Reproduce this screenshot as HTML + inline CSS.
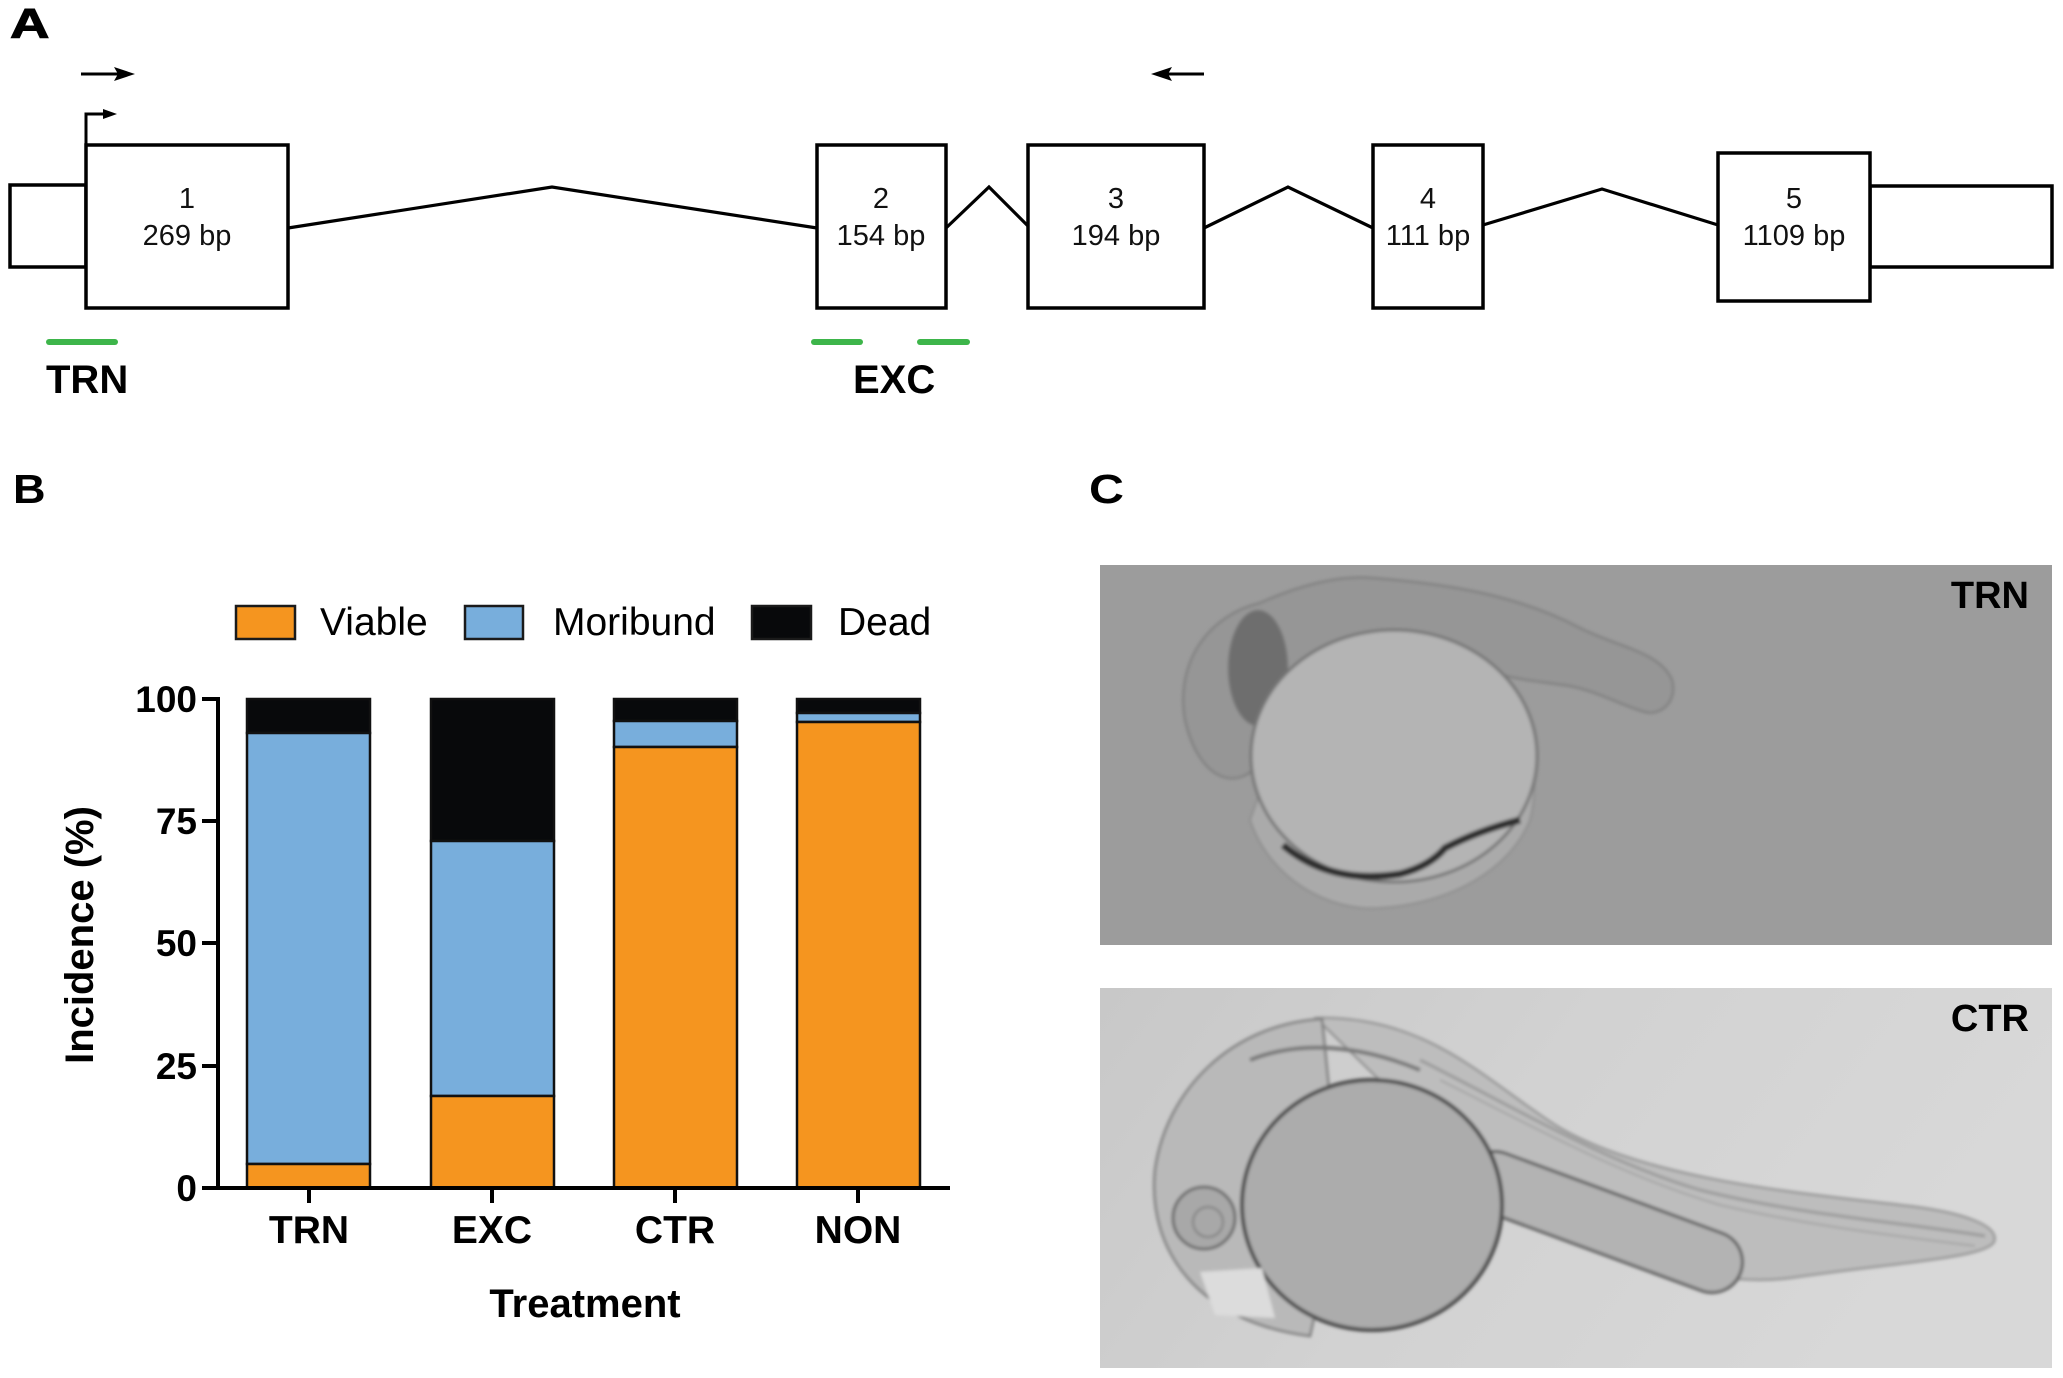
<!DOCTYPE html>
<html>
<head>
<meta charset="utf-8">
<style>
html,body{margin:0;padding:0;background:#fff;}
svg{display:block;}
text{font-family:"Liberation Sans",Arial,sans-serif;}
</style>
</head>
<body>
<svg width="2063" height="1378" viewBox="0 0 2063 1378" xmlns="http://www.w3.org/2000/svg">
<defs>
  <linearGradient id="ctrbg" x1="0" y1="0" x2="1" y2="0.3">
    <stop offset="0" stop-color="#c8c8c8"/>
    <stop offset="0.5" stop-color="#d2d2d2"/>
    <stop offset="1" stop-color="#d8d8d8"/>
  </linearGradient>
  <filter id="soft" x="-5%" y="-5%" width="110%" height="110%"><feGaussianBlur stdDeviation="1.5"/></filter>
</defs>
<rect width="2063" height="1378" fill="#fff"/>

<!-- ===== Panel A ===== -->
<text transform="translate(10,38) scale(1.3,1)" font-size="42" font-weight="bold" fill="#000" stroke="#000" stroke-width="1">A</text>

<!-- primer arrows -->
<line x1="81" y1="74" x2="124" y2="74" stroke="#000" stroke-width="3"/>
<polygon points="135,74 114,67 118,74 114,81" fill="#000"/>
<line x1="1162" y1="74" x2="1204" y2="74" stroke="#000" stroke-width="3"/>
<polygon points="1151,74 1172,67 1168,74 1172,81" fill="#000"/>

<!-- TSS arrow -->
<polyline points="86,145 86,114 108,114" fill="none" stroke="#000" stroke-width="3"/>
<polygon points="117,114 103,109 103,119" fill="#000"/>

<!-- introns -->
<g fill="none" stroke="#000" stroke-width="3.2" stroke-linejoin="miter">
  <polyline points="288,228 552,187 817,228"/>
  <polyline points="946,228 989,187 1030,228"/>
  <polyline points="1204,228 1288,187 1373,228"/>
  <polyline points="1483,225 1602,189 1718,225"/>
</g>

<!-- UTR boxes -->
<g fill="#fff" stroke="#000" stroke-width="3.5">
  <rect x="10" y="185" width="76" height="82"/>
  <rect x="1870" y="186" width="182" height="81"/>
</g>
<!-- exons -->
<g fill="#fff" stroke="#000" stroke-width="3.5">
  <rect x="86" y="145" width="202" height="163"/>
  <rect x="817" y="145" width="129" height="163"/>
  <rect x="1028" y="145" width="176" height="163"/>
  <rect x="1373" y="145" width="110" height="163"/>
  <rect x="1718" y="153" width="152" height="148"/>
</g>
<g font-size="29" fill="#111" text-anchor="middle">
  <text x="187" y="208">1</text><text x="187" y="245">269 bp</text>
  <text x="881" y="208">2</text><text x="881" y="245">154 bp</text>
  <text x="1116" y="208">3</text><text x="1116" y="245">194 bp</text>
  <text x="1428" y="208">4</text><text x="1428" y="245">111 bp</text>
  <text x="1794" y="208">5</text><text x="1794" y="245">1109 bp</text>
</g>

<!-- morpholino bars -->
<g stroke="#3db54a" stroke-width="6" stroke-linecap="round">
  <line x1="49" y1="342" x2="115" y2="342"/>
  <line x1="814" y1="342" x2="860" y2="342"/>
  <line x1="920" y1="342" x2="967" y2="342"/>
</g>
<g font-size="40" font-weight="bold" fill="#000">
  <text x="46" y="393">TRN</text>
  <text x="853" y="393">EXC</text>
</g>

<!-- ===== Panel B ===== -->
<text transform="translate(13,503) scale(1.1,1)" font-size="41" font-weight="bold" fill="#000">B</text>

<!-- legend -->
<g stroke="#1a1a1a" stroke-width="2.5">
  <rect x="236" y="606" width="59" height="33" fill="#f5951f"/>
  <rect x="465" y="606" width="58" height="33" fill="#78aedc"/>
  <rect x="752" y="606" width="59" height="33" fill="#08090b"/>
</g>
<g font-size="39" fill="#000">
  <text x="320" y="635">Viable</text>
  <text x="553" y="635">Moribund</text>
  <text x="838" y="635">Dead</text>
</g>

<!-- bars -->
<g stroke="#111" stroke-width="2.5">
  <rect x="247" y="699" width="123" height="34" fill="#08090b"/>
  <rect x="247" y="733" width="123" height="431" fill="#78aedc"/>
  <rect x="247" y="1164" width="123" height="24" fill="#f5951f"/>
  <rect x="431" y="699" width="123" height="142" fill="#08090b"/>
  <rect x="431" y="841" width="123" height="255" fill="#78aedc"/>
  <rect x="431" y="1096" width="123" height="92" fill="#f5951f"/>
  <rect x="614" y="699" width="123" height="22" fill="#08090b"/>
  <rect x="614" y="721" width="123" height="26" fill="#78aedc"/>
  <rect x="614" y="747" width="123" height="441" fill="#f5951f"/>
  <rect x="797" y="699" width="123" height="14" fill="#08090b"/>
  <rect x="797" y="713" width="123" height="9" fill="#78aedc"/>
  <rect x="797" y="722" width="123" height="466" fill="#f5951f"/>
</g>

<!-- axes -->
<g stroke="#000" stroke-width="4">
  <line x1="218" y1="697" x2="218" y2="1190"/>
  <line x1="216" y1="1188" x2="950" y2="1188"/>
  <line x1="202" y1="699" x2="218" y2="699"/>
  <line x1="202" y1="821" x2="218" y2="821"/>
  <line x1="202" y1="943" x2="218" y2="943"/>
  <line x1="202" y1="1066" x2="218" y2="1066"/>
  <line x1="202" y1="1188" x2="218" y2="1188"/>
  <line x1="309" y1="1188" x2="309" y2="1203"/>
  <line x1="492" y1="1188" x2="492" y2="1203"/>
  <line x1="675" y1="1188" x2="675" y2="1203"/>
  <line x1="858" y1="1188" x2="858" y2="1203"/>
</g>
<g font-size="37" font-weight="bold" fill="#000" text-anchor="end">
  <text x="197" y="712">100</text>
  <text x="197" y="834">75</text>
  <text x="197" y="956">50</text>
  <text x="197" y="1079">25</text>
  <text x="197" y="1201">0</text>
</g>
<g font-size="39" font-weight="bold" fill="#000" text-anchor="middle">
  <text x="309" y="1243">TRN</text>
  <text x="492" y="1243">EXC</text>
  <text x="675" y="1243">CTR</text>
  <text x="858" y="1243">NON</text>
</g>
<text x="585" y="1317" font-size="40" font-weight="bold" text-anchor="middle" fill="#000">Treatment</text>
<text transform="translate(93,935) rotate(-90)" font-size="40" font-weight="bold" text-anchor="middle" fill="#000">Incidence (%)</text>

<!-- ===== Panel C ===== -->
<text transform="translate(1089,503) scale(1.18,1)" font-size="41" font-weight="bold" fill="#000">C</text>

<!-- TRN image -->
<rect x="1100" y="565" width="952" height="380" fill="#9c9c9c"/>
<g filter="url(#soft)">
  <path d="M1250,820 C1270,880 1330,912 1380,908 C1450,904 1510,870 1530,820 C1545,760 1520,700 1480,670 L1300,680 Z" fill="#aaaaaa" stroke="#8e8e8e" stroke-width="2"/>
  <path d="M1185,720 C1175,660 1210,615 1260,603 C1300,585 1340,575 1372,578 C1450,584 1520,596 1580,628 C1620,648 1660,652 1672,680 C1678,702 1660,716 1645,712 C1620,705 1600,692 1570,686 C1540,681 1510,680 1490,670 C1450,642 1400,632 1350,642 C1300,660 1272,700 1262,760 C1240,792 1200,784 1185,720 Z" fill="#969696" stroke="#7c7c7c" stroke-width="2"/>
  <ellipse cx="1258" cy="668" rx="30" ry="58" fill="#6e6e6e"/>
  <ellipse cx="1394" cy="756" rx="143" ry="126" fill="#b4b4b4" stroke="#747474" stroke-width="3"/>
  <path d="M1283,845 Q1330,885 1400,874 Q1430,866 1445,848 Q1480,830 1520,820" fill="none" stroke="#2e2e2e" stroke-width="7"/>
</g>
<text x="2029" y="608" font-size="38" font-weight="bold" text-anchor="end" fill="#000">TRN</text>

<!-- CTR image -->
<rect x="1100" y="988" width="952" height="380" fill="url(#ctrbg)"/>
<g filter="url(#soft)">
  <path d="M1316,1018 C1430,1015 1490,1085 1560,1128 C1650,1180 1800,1193 1900,1205 C1965,1212 2000,1226 1994,1242 C1985,1258 1900,1262 1790,1278 C1700,1290 1600,1245 1500,1205 L1400,1100 Z" fill="#bdbdbd" stroke="#8a8a8a" stroke-width="2"/>
  <path d="M1420,1060 C1520,1110 1600,1160 1700,1190 C1800,1215 1900,1222 1985,1236" fill="none" stroke="#9a9a9a" stroke-width="3"/>
  <path d="M1440,1080 C1540,1130 1620,1175 1720,1205 C1820,1228 1900,1236 1975,1246" fill="none" stroke="#a4a4a4" stroke-width="2"/>
  <path d="M1322,1019 C1232,1024 1166,1090 1155,1170 C1147,1252 1200,1322 1310,1336 L1340,1200 Z" fill="#b9b9b9" stroke="#7e7e7e" stroke-width="2.5"/>
  <path d="M1250,1060 C1300,1040 1360,1045 1420,1070" fill="none" stroke="#777" stroke-width="4"/>
  <line x1="1495" y1="1182" x2="1712" y2="1262" stroke="#5a5a5a" stroke-width="64" stroke-linecap="round"/>
  <line x1="1495" y1="1182" x2="1712" y2="1262" stroke="#b3b3b3" stroke-width="58" stroke-linecap="round"/>
  <ellipse cx="1372" cy="1205" rx="130" ry="125" fill="#acacac" stroke="#484848" stroke-width="4"/>
  <path d="M1200,1272 L1262,1268 L1275,1318 L1215,1315 Z" fill="#dcdcdc"/>
  <circle cx="1204" cy="1218" r="31" fill="#a8a8a8" stroke="#6a6a6a" stroke-width="3"/>
  <circle cx="1208" cy="1222" r="15" fill="none" stroke="#808080" stroke-width="2"/>
</g>
<text x="2029" y="1031" font-size="38" font-weight="bold" text-anchor="end" fill="#000">CTR</text>
</svg>
</body>
</html>
